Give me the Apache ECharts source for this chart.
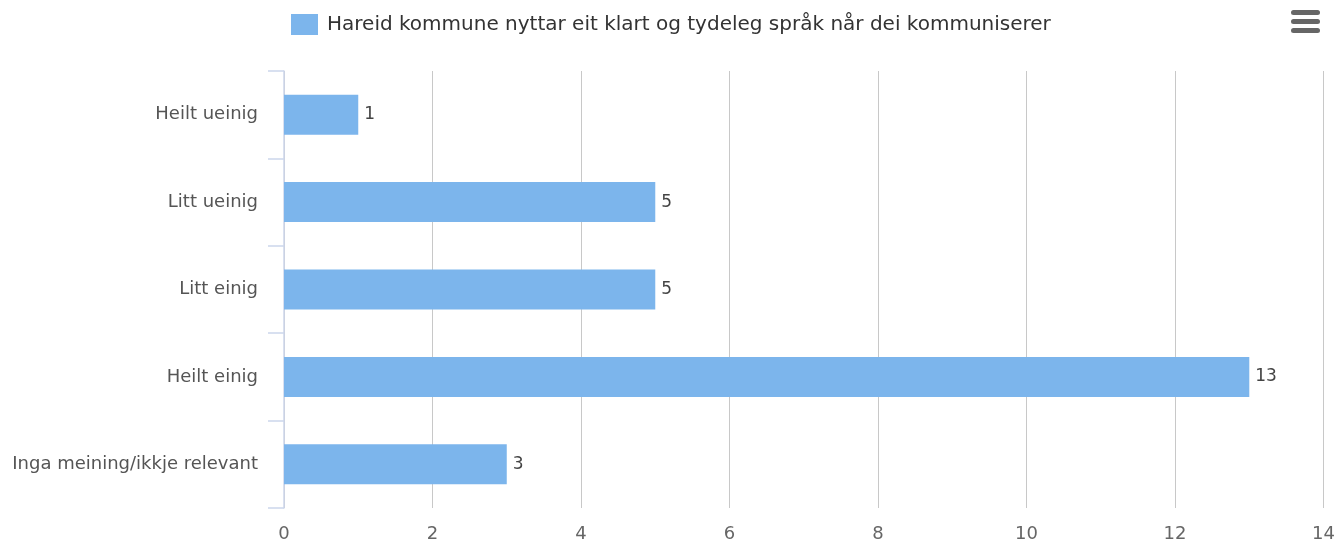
<!DOCTYPE html>
<html><head><meta charset="utf-8">
<script src="https://cdn.jsdelivr.net/npm/echarts@6/dist/echarts.min.js"></script>
<style>html,body{margin:0;padding:0;background:#fff}#c{width:1338px;height:543px}</style>
</head><body><div id="c"></div>
<script>
const categories = ["Heilt ueinig", "Litt ueinig", "Litt einig", "Heilt einig", "Inga meining/ikkje relevant"];
const values = [1, 5, 5, 13, 3];
const seriesName = "Hareid kommune nyttar eit klart og tydeleg språk når dei kommuniserer";
const xTicks = [0, 2, 4, 6, 8, 10, 12, 14];

const font = '"DejaVu Sans", Verdana, sans-serif';
const chart = echarts.init(document.getElementById('c'));
chart.setOption({
  animation: false,
  textStyle: { fontFamily: font },
  legend: {
    top: 9, left: 286,
    itemWidth: 27, itemHeight: 21, itemGap: 10,
    icon: 'rect',
    textStyle: { fontSize: 20, color: '#333', fontFamily: font, padding: [0, 0, 0, 4] },
    data: [seriesName]
  },
  grid: { left: 284, right: 14, top: 71, bottom: 35, containLabel: false },
  xAxis: {
    type: 'value', min: xTicks[0], max: xTicks[xTicks.length - 1], interval: 2,
    axisLine: { show: false }, axisTick: { show: false },
    axisLabel: { fontSize: 18, color: '#666', margin: 17, fontFamily: font },
    splitLine: { lineStyle: { color: '#c8c8c8', width: 1 } }
  },
  yAxis: {
    type: 'category', inverse: true, data: categories,
    axisLine: { lineStyle: { color: '#ccd6eb', width: 1.5 } },
    axisTick: { show: true, length: 16, lineStyle: { color: '#ccd6eb', width: 1.5 } },
    axisLabel: { fontSize: 18, color: '#555', margin: 26, fontFamily: font }
  },
  series: [{
    name: seriesName, type: 'bar', data: values,
    barWidth: 40,
    itemStyle: { color: '#7cb5ec' },
    label: { show: true, position: 'right', distance: 6, fontSize: 17, color: '#444', fontFamily: font }
  }],
  graphic: [
    { type: 'rect', shape: { x: 1291, y: 10, width: 29, height: 5, r: 2.5 }, style: { fill: '#666' } },
    { type: 'rect', shape: { x: 1291, y: 19, width: 29, height: 5, r: 2.5 }, style: { fill: '#666' } },
    { type: 'rect', shape: { x: 1291, y: 28, width: 29, height: 5, r: 2.5 }, style: { fill: '#666' } }
  ]
});
</script></body></html>
